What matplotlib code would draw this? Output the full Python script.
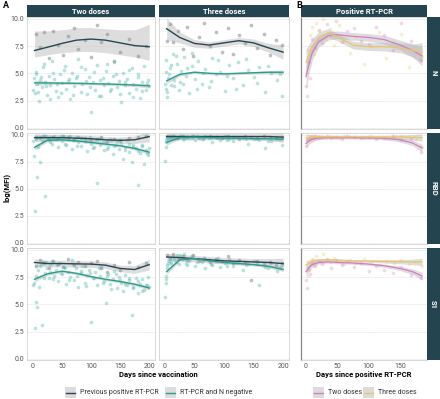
import matplotlib
matplotlib.use("Agg")
import matplotlib.pyplot as plt
from matplotlib.patches import Rectangle
from matplotlib.lines import Line2D

# colours
C_STRIP = "#24444f"
C_PREV = "#264653"
C_NEG = "#2a9d8f"
C_TWO = "#d67cc4"
C_THREE = "#e9c46a"

markers = ["N", "RBD", "S1"]

# ---- panel A, two doses: RT-PCR and N negative (points)
two_neg_x = [2, 4, 6, 8, 10, 13, 15, 18, 21, 24, 27, 30, 33, 36, 40, 43, 46, 50, 53, 57,
             60, 64, 67, 71, 75, 78, 82, 85, 89, 93, 96, 100, 104, 107, 111, 115, 118, 122, 126, 129,
             133, 137, 140, 144, 148, 151, 155, 159, 162, 166, 170, 173, 177, 181, 184, 188, 191, 195, 198, 200,
             1, 5, 9, 14, 19, 23, 29, 35, 41, 48, 55, 62, 69, 76, 83, 91, 98, 105, 113, 120,
             128, 135, 143, 150, 158, 165, 172, 180, 187, 196]
two_neg_N = [4.6, 3.2, 5.1, 4.0, 2.5, 4.4, 3.7, 5.6, 4.2, 3.0, 4.8, 3.9, 6.1, 4.5, 3.4, 2.8, 4.9, 4.1, 5.3, 3.6,
             4.3, 2.6, 5.0, 3.8, 4.6, 6.3, 3.3, 4.0, 5.4, 3.1, 4.7, 1.4, 4.2, 3.5, 5.8, 4.4, 2.9, 3.9, 5.2, 4.1,
             3.4, 4.8, 6.0, 3.7, 4.3, 2.4, 5.0, 3.9, 4.5, 3.2, 5.5, 4.0, 3.6, 4.9, 2.7, 4.2, 5.7, 3.5, 4.4, 3.8,
             3.5, 4.9, 3.3, 4.7, 5.9, 3.8, 2.6, 5.0, 4.0, 3.2, 5.7, 4.5, 3.0, 4.8, 5.6, 4.3, 3.7, 5.1, 2.9, 4.6,
             5.9, 3.6, 4.9, 3.1, 4.2, 5.3, 2.8, 4.7, 3.4, 4.1]
two_neg_RBD = [8.0, 2.9, 9.6, 6.1, 9.8, 7.5, 9.4, 9.9, 4.3, 9.7, 9.5, 9.8, 9.2, 9.9, 9.6, 8.9, 9.7, 9.4, 9.8, 9.1,
               9.6, 9.9, 8.7, 9.5, 9.8, 9.3, 9.0, 9.7, 9.4, 8.5, 9.6, 9.2, 8.8, 9.5, 5.5, 9.1, 9.7, 8.6, 9.3, 8.9,
               9.6, 8.2, 9.0, 9.4, 8.7, 9.2, 7.8, 8.9, 9.5, 8.4, 7.5, 9.1, 8.8, 5.4, 8.3, 9.0, 7.3, 8.6, 8.1, 8.8,
               9.4, 9.7, 8.9, 9.8, 9.5, 9.9, 9.3, 9.7, 9.6, 9.9, 9.2, 9.8, 9.5, 9.0, 9.7, 9.4, 9.8, 8.9, 9.6, 9.3,
               8.7, 9.5, 9.1, 9.4, 8.6, 9.2, 8.9, 8.5, 9.1, 8.3]
two_neg_S1 = [7.0, 2.8, 5.2, 4.8, 6.6, 8.5, 3.1, 8.9, 7.9, 8.3, 7.4, 8.6, 9.0, 7.6, 8.2, 7.1, 8.8, 7.8, 8.4, 6.9,
              8.0, 7.5, 9.1, 7.2, 8.3, 6.6, 7.9, 8.5, 7.0, 7.7, 8.2, 3.4, 7.4, 8.0, 6.8, 7.6, 8.4, 7.1, 5.1, 7.8,
              6.9, 7.3, 8.1, 6.5, 7.5, 7.0, 6.2, 7.7, 6.8, 7.2, 4.0, 6.6, 7.4, 6.0, 6.9, 7.3, 6.3, 6.8, 7.5, 6.6,
              6.8, 7.6, 8.2, 8.7, 7.4, 8.9, 8.0, 7.3, 8.6, 7.9, 8.3, 7.2, 8.7, 7.6, 8.1, 6.7, 7.9, 7.4, 8.3, 7.0,
              7.6, 6.4, 7.8, 7.2, 6.9, 7.4, 6.5, 7.1, 6.2, 6.8]

# ---- panel A, two doses: previous positive RT-PCR (points)
two_prev_x = [6, 12, 20, 28, 35, 44, 52, 60, 70, 78, 90, 100, 110, 118, 128, 140, 150, 165, 180, 195]
two_prev_N = [8.6, 7.4, 8.8, 6.4, 8.9, 7.6, 6.7, 8.4, 9.2, 7.2, 8.1, 6.5, 9.4, 7.9, 8.6, 6.1, 7.0, 8.2, 6.6, 7.5]
two_prev_RBD = [9.8, 9.7, 9.9, 9.6, 9.8, 9.7, 9.9, 9.8, 9.6, 9.8, 9.7, 9.5, 9.6, 9.8, 9.4, 9.6, 9.5, 9.7, 9.8, 9.9]
two_prev_S1 = [8.5, 9.1, 8.8, 8.3, 9.0, 8.7, 8.4, 9.2, 8.6, 8.9, 8.5, 8.8, 9.0, 8.3, 8.0, 8.6, 8.2, 8.9, 8.4, 8.8]

# ---- panel A, three doses: RT-PCR and N negative (points)
three_neg_x = [0, 1, 2, 3, 5, 8, 10, 13, 16, 20, 24, 28, 32, 36, 41, 46, 51, 56, 62, 68,
               74, 80, 87, 94, 101, 108, 116, 124, 132, 141, 150, 160, 170, 180, 190, 198,
               1, 4, 7, 11, 15, 19, 25, 31, 38, 45, 55, 65, 78, 90, 105, 120, 138, 155, 175, 195]
three_neg_N = [4.0, 3.6, 6.2, 2.8, 4.6, 5.5, 3.9, 6.8, 4.4, 5.9, 3.5, 5.2, 6.5, 4.8, 3.2, 5.7, 4.5, 6.1, 4.0, 5.4,
               3.7, 6.4, 4.9, 5.1, 3.4, 5.8, 4.6, 6.0, 3.9, 5.3, 4.7, 5.6, 3.3, 5.0, 4.4, 2.9,
               5.1, 3.3, 4.9, 5.8, 3.8, 6.6, 4.2, 4.0, 5.5, 6.9, 3.6, 5.0, 4.3, 6.2, 4.8, 3.6, 6.3, 4.1, 5.7, 4.9]
three_neg_RBD = [7.6, 8.9, 9.3, 9.7, 9.8, 9.9, 9.6, 9.8, 9.9, 9.7, 9.8, 9.9, 9.6, 9.8, 9.7, 9.9, 9.5, 9.8, 9.6, 9.9,
                 9.7, 9.3, 9.8, 9.5, 9.9, 9.6, 9.4, 9.8, 9.7, 9.2, 9.6, 9.5, 8.8, 9.4, 9.7, 9.1,
                 9.5, 9.8, 9.6, 9.9, 9.7, 9.8, 9.9, 9.6, 9.8, 9.7, 9.9, 9.6, 9.8, 9.7, 9.5, 9.8, 9.6, 9.7, 9.4, 9.6]
three_neg_S1 = [5.7, 7.0, 7.6, 8.3, 8.8, 9.2, 8.9, 9.4, 9.1, 9.5, 8.7, 9.3, 9.6, 8.8, 9.0, 9.4, 8.5, 9.2, 8.9, 8.3,
                9.1, 8.6, 9.0, 8.4, 8.8, 9.2, 8.5, 8.9, 8.2, 8.7, 9.0, 6.8, 8.4, 8.8, 8.1, 8.6,
                7.3, 8.6, 9.0, 8.7, 9.3, 8.9, 9.5, 9.2, 8.6, 9.4, 8.9, 9.1, 8.7, 9.3, 8.5, 8.8, 8.6, 8.7, 8.3, 8.4]

# ---- panel A, three doses: previous positive RT-PCR (points)
three_prev_x = [4, 8, 14, 22, 30, 38, 48, 58, 66, 76, 86, 96, 106, 116, 126, 136, 146, 156, 168, 178, 188, 198]
three_prev_N = [8.0, 9.5, 7.9, 8.9, 7.2, 9.3, 6.6, 8.3, 9.6, 7.5, 8.8, 7.0, 9.2, 6.8, 8.5, 7.8, 9.4, 7.3, 8.6, 6.7, 8.1, 7.6]
three_prev_RBD = [9.9, 9.8, 9.9, 9.7, 9.9, 9.8, 9.9, 9.7, 9.8, 9.9, 9.8, 9.7, 9.9, 9.8, 9.6, 9.9, 9.8, 9.7, 9.9, 9.8, 9.7, 9.8]
three_prev_S1 = [9.5, 9.3, 9.6, 9.2, 9.4, 9.1, 9.5, 9.0, 9.3, 8.9, 9.2, 9.0, 9.4, 8.8, 9.1, 8.9, 7.2, 9.0, 8.7, 8.9, 8.6, 8.8]

# ---- panel B: positive RT-PCR, two doses / three doses (points)
pcr_two_x = [0, 2, 4, 7, 10, 14, 20, 26, 33, 40, 48, 57, 66, 76, 88, 100, 112, 124, 138, 152, 168, 184]
pcr_two_N = [3.8, 2.9, 6.0, 4.6, 8.2, 7.3, 9.0, 7.8, 9.5, 8.6, 9.8, 7.9, 8.9, 9.2, 8.0, 7.7, 9.3, 8.5, 7.1, 9.6, 8.0, 6.2]
pcr_two_RBD = [9.0, 9.5, 9.7, 9.6, 9.8, 9.9, 9.7, 9.8, 9.9, 9.7, 9.8, 9.6, 9.9, 9.8, 9.7, 9.8, 9.6, 9.7, 9.9, 9.5, 9.6, 8.4]
pcr_two_S1 = [7.2, 6.5, 8.2, 7.8, 8.8, 8.5, 9.0, 8.7, 9.2, 8.3, 9.1, 8.6, 9.0, 8.4, 8.8, 8.1, 8.5, 8.2, 7.9, 8.4, 7.7, 7.4]
pcr_three_x = [1, 3, 6, 9, 12, 16, 21, 27, 32, 38, 45, 52, 60, 70, 80, 92, 104, 116, 128, 140, 152, 164, 175, 185]
pcr_three_N = [5.0, 7.1, 8.5, 9.3, 6.8, 9.6, 8.9, 10.0, 8.2, 9.1, 7.6, 9.4, 8.0, 6.9, 8.3, 5.9, 7.5, 8.8, 6.4, 7.9, 8.6, 5.6, 7.2, 6.5]
pcr_three_RBD = [9.5, 9.7, 9.8, 9.9, 9.7, 9.8, 9.9, 9.8, 9.7, 9.9, 9.8, 9.7, 9.9, 9.8, 9.8, 9.7, 9.9, 9.8, 9.7, 9.8, 9.9, 9.8, 9.6, 8.9]
pcr_three_S1 = [8.3, 7.6, 8.8, 9.2, 8.6, 9.4, 9.0, 9.6, 9.1, 8.9, 9.3, 9.0, 8.7, 9.1, 8.8, 9.2, 8.9, 8.6, 9.0, 8.8, 9.1, 8.7, 8.9, 8.5]

# ---- smoothed fits (value, lower, upper)
fit_x_vax = [3, 25, 50, 75, 100, 125, 150, 175, 200]
two_prev_fit_N = [7.1, 7.4, 7.75, 8.05, 8.15, 8.05, 7.8, 7.55, 7.45]
two_prev_lo_N = [6.5, 6.7, 6.9, 7.0, 7.0, 6.9, 6.7, 6.5, 6.2]
two_prev_hi_N = [8.9, 8.9, 9.0, 9.2, 9.2, 9.1, 9.0, 9.0, 9.5]
two_neg_fit_N = [4.12, 4.12, 4.1, 4.08, 4.05, 4.02, 3.98, 3.92, 3.85]
two_prev_fit_RBD = [9.75, 9.75, 9.75, 9.7, 9.65, 9.55, 9.5, 9.55, 9.85]
two_neg_fit_RBD = [8.85, 9.5, 9.55, 9.45, 9.3, 9.15, 9.0, 8.75, 8.4]
two_prev_fit_S1 = [8.85, 8.75, 8.75, 8.72, 8.7, 8.6, 8.3, 8.2, 8.65]
two_neg_fit_S1 = [7.3, 7.8, 8.05, 7.85, 7.55, 7.3, 7.1, 6.85, 6.5]

three_prev_fit_N = [9.1, 8.3, 7.75, 7.6, 7.8, 8.0, 7.8, 7.35, 6.95]
three_prev_lo_N = [8.1, 7.8, 7.4, 7.3, 7.5, 7.7, 7.45, 6.95, 6.3]
three_prev_hi_N = [10.1, 8.8, 8.1, 7.9, 8.1, 8.3, 8.15, 7.75, 7.6]
three_neg_fit_N = [4.3, 4.9, 5.1, 5.0, 4.95, 5.0, 5.05, 5.1, 5.1]
three_prev_fit_RBD = [9.85, 9.85, 9.85, 9.85, 9.85, 9.85, 9.85, 9.85, 9.8]
three_neg_fit_RBD = [9.3, 9.75, 9.8, 9.75, 9.7, 9.7, 9.65, 9.65, 9.6]
three_prev_fit_S1 = [9.35, 9.3, 9.2, 9.1, 9.0, 8.95, 8.9, 8.85, 8.75]
three_neg_fit_S1 = [8.0, 9.1, 9.2, 9.0, 8.85, 8.75, 8.65, 8.5, 8.2]

# half-width of the grey bands where no explicit bounds are given
band_prev = [0.35, 0.3, 0.3, 0.3, 0.3, 0.3, 0.3, 0.35, 0.5]
band_neg = [0.25, 0.15, 0.12, 0.12, 0.12, 0.12, 0.12, 0.15, 0.2]

fit_x_pcr = [0, 5, 10, 20, 35, 50, 75, 100, 125, 150, 170, 185]
pcr_two_fit_N = [4.7, 5.9, 6.9, 7.9, 8.45, 8.55, 8.4, 8.3, 8.1, 7.6, 7.1, 6.6]
pcr_three_fit_N = [6.0, 6.8, 7.5, 8.3, 8.7, 8.35, 7.6, 7.45, 7.45, 7.35, 7.1, 6.9]
pcr_two_fit_RBD = [9.2, 9.45, 9.6, 9.72, 9.75, 9.75, 9.75, 9.72, 9.7, 9.55, 9.25, 8.8]
pcr_three_fit_RBD = [9.7, 9.75, 9.8, 9.82, 9.82, 9.82, 9.82, 9.82, 9.8, 9.8, 9.78, 9.75]
pcr_two_fit_S1 = [8.0, 8.4, 8.65, 8.85, 8.9, 8.85, 8.8, 8.7, 8.55, 8.3, 8.0, 7.6]
pcr_three_fit_S1 = [8.6, 8.8, 8.95, 9.05, 9.1, 9.05, 9.0, 8.98, 8.95, 8.92, 8.9, 8.9]
band_pcr_N = [1.2, 0.9, 0.7, 0.5, 0.4, 0.35, 0.35, 0.35, 0.4, 0.45, 0.6, 0.9]
band_pcr = [0.4, 0.3, 0.25, 0.15, 0.12, 0.12, 0.12, 0.12, 0.15, 0.2, 0.25, 0.35]

FONT = ["Liberation Sans Narrow", "Roboto", "DejaVu Sans"]
plt.rcParams["font.family"] = FONT

W, H = 440, 399
fig = plt.figure(figsize=(4.4, 3.99), dpi=100)


def rect(x0, y0, x1, y1):
    return [x0 / W, 1 - y1 / H, (x1 - x0) / W, (y1 - y0) / H]


cols = [(27, 155), (159, 289), (301, 427)]
rows = [(17, 129), (133, 244), (248, 360)]


def band(ax, x, fit, lo=None, hi=None, half=None):
    if lo is None:
        lo = [f - h for f, h in zip(fit, half)]
        hi = [f + h for f, h in zip(fit, half)]
    ax.fill_between(x, lo, hi, color="#b5b5b5", alpha=0.45, lw=0, zorder=2)


def style(ax, c, r):
    ax.set_ylim(-0.12, 10.18)
    if c < 2:
        ax.set_xlim(-10, 210)
        ax.set_xticks([0, 50, 100, 150, 200])
    else:
        ax.set_xlim(-8, 193)
        ax.set_xticks([0, 50, 100, 150])
    ax.set_yticks([0, 2.5, 5, 7.5, 10])
    ax.set_yticklabels(["0.0", "2.5", "5.0", "7.5", "10.0"])
    ax.grid(axis="y", color="#e6e6e6", lw=0.5, ls=(0, (3, 1)))
    ax.set_axisbelow(True)
    ax.tick_params(length=0, labelsize=5, colors="#555555", pad=2)
    for s in ax.spines.values():
        s.set_color("#d2d2d2")
        s.set_linewidth(0.6)
    if c == 2:
        ax.spines["left"].set_color("#888888")
        ax.spines["left"].set_linewidth(0.9)
    if c != 0:
        ax.set_yticklabels([])
    if r != 2:
        ax.set_xticklabels([])


pts_A = [
    [(two_prev_x, [two_prev_N, two_prev_RBD, two_prev_S1]),
     (two_neg_x, [two_neg_N, two_neg_RBD, two_neg_S1])],
    [(three_prev_x, [three_prev_N, three_prev_RBD, three_prev_S1]),
     (three_neg_x, [three_neg_N, three_neg_RBD, three_neg_S1])],
]
fits_A = [
    [[two_prev_fit_N, two_prev_fit_RBD, two_prev_fit_S1],
     [two_neg_fit_N, two_neg_fit_RBD, two_neg_fit_S1]],
    [[three_prev_fit_N, three_prev_fit_RBD, three_prev_fit_S1],
     [three_neg_fit_N, three_neg_fit_RBD, three_neg_fit_S1]],
]
bounds_N = [(two_prev_lo_N, two_prev_hi_N), (three_prev_lo_N, three_prev_hi_N)]

for c in range(2):
    for r in range(3):
        ax = fig.add_axes(rect(cols[c][0], rows[r][0], cols[c][1], rows[r][1]))
        style(ax, c, r)
        (px, py), (nx, ny) = pts_A[c]
        ax.scatter(px, py[r], s=7, color="#8a8a8a", alpha=0.55, lw=0, zorder=3)
        ax.scatter(nx, ny[r], s=7, color="#5bb8ad", alpha=0.42, lw=0, zorder=3)
        prev_fit, neg_fit = fits_A[c][0][r], fits_A[c][1][r]
        if r == 0:
            band(ax, fit_x_vax, prev_fit, bounds_N[c][0], bounds_N[c][1])
        else:
            band(ax, fit_x_vax, prev_fit, half=band_prev)
        band(ax, fit_x_vax, neg_fit, half=band_neg)
        ax.plot(fit_x_vax, prev_fit, color=C_PREV, lw=1.0, zorder=4)
        ax.plot(fit_x_vax, neg_fit, color=C_NEG, lw=1.0, zorder=4)

pts_B = [(pcr_two_x, [pcr_two_N, pcr_two_RBD, pcr_two_S1], C_TWO),
         (pcr_three_x, [pcr_three_N, pcr_three_RBD, pcr_three_S1], C_THREE)]
fits_B = [[pcr_two_fit_N, pcr_two_fit_RBD, pcr_two_fit_S1],
          [pcr_three_fit_N, pcr_three_fit_RBD, pcr_three_fit_S1]]

for r in range(3):
    ax = fig.add_axes(rect(cols[2][0], rows[r][0], cols[2][1], rows[r][1]))
    style(ax, 2, r)
    half = band_pcr_N if r == 0 else band_pcr
    for (x, ys, col), fits in zip(pts_B, fits_B):
        ax.scatter(x, ys[r], s=7, color=col, alpha=0.3, lw=0, zorder=3)
        band(ax, fit_x_pcr, fits[r], half=half)
    for (x, ys, col), fits in zip(pts_B, fits_B):
        ax.plot(fit_x_pcr, fits[r], color=col, lw=0.9, zorder=4)

# strips
strip_txt = dict(color="white", fontsize=5.5, fontweight="bold", ha="center", va="center")
for c, label in enumerate(["Two doses", "Three doses", "Positive RT-PCR"]):
    x0, x1 = cols[c]
    fig.add_artist(Rectangle((x0 / W, 1 - 17 / H), (x1 - x0) / W, 12 / H,
                             transform=fig.transFigure, color=C_STRIP, lw=0))
    fig.text((x0 + x1) / 2 / W, 1 - 11 / H, label, **strip_txt)
for r, label in enumerate(markers):
    y0, y1 = rows[r]
    fig.add_artist(Rectangle((427 / W, 1 - y1 / H), 13 / W, (y1 - y0) / H,
                             transform=fig.transFigure, color=C_STRIP, lw=0))
    fig.text(433.5 / W, 1 - (y0 + y1) / 2 / H, label, rotation=-90, **strip_txt)

# labels
fig.text(3 / W, 1 - 6 / H, "A", fontsize=6.5, fontweight="bold", va="center")
fig.text(296 / W, 1 - 5 / H, "B", fontsize=6.5, fontweight="bold", va="center")
fig.text(7 / W, 1 - 188 / H, "log(MFI)", rotation=90, fontsize=5.5, fontweight="bold",
         ha="center", va="center")
fig.text(158 / W, 1 - 374 / H, "Days since vaccination", fontsize=5.5, fontweight="bold",
         ha="center", va="center")
fig.text(364 / W, 1 - 374 / H, "Days since positive RT-PCR", fontsize=5.5, fontweight="bold",
         ha="center", va="center")

# legends
legend_items = [(65, "Previous positive RT-PCR", C_PREV), (165, "RT-PCR and N negative", C_NEG),
                (313, "Two doses", C_TWO), (363, "Three doses", C_THREE)]
for kx, label, col in legend_items:
    fig.add_artist(Rectangle((kx / W, 1 - 398 / H), 11 / W, 11 / H,
                             transform=fig.transFigure, color="#dcdcdc", lw=0))
    fig.add_artist(Line2D([(kx + 1) / W, (kx + 10) / W], [1 - 392.5 / H, 1 - 392.5 / H],
                          transform=fig.transFigure, color=col, lw=1.0))
    fig.text((kx + 15) / W, 1 - 392.5 / H, label, fontsize=5, color="#333333", va="center")

fig.savefig("out.png", dpi=100)
